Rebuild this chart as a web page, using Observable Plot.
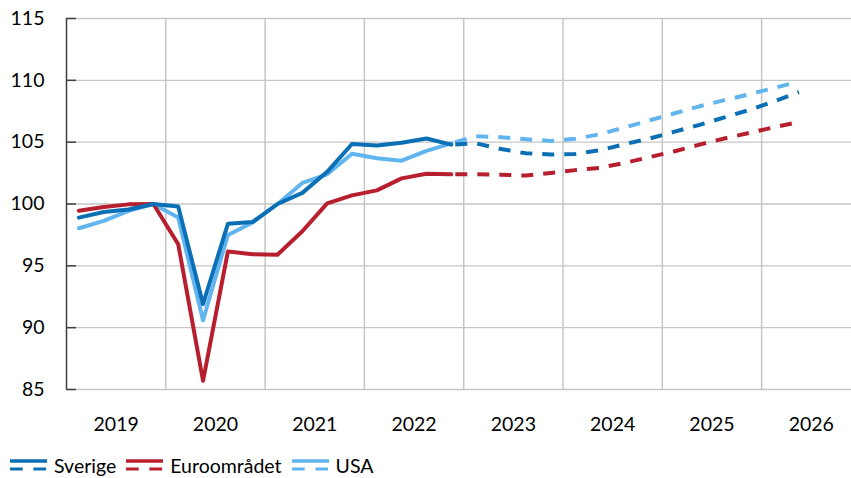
<!DOCTYPE html>
<html><head><meta charset="utf-8">
<script src="https://cdn.jsdelivr.net/npm/d3@7"></script>
<script src="https://cdn.jsdelivr.net/npm/@observablehq/plot@0.6"></script>
<style>
body{margin:0;background:#fff;overflow:hidden;font-family:Lato,sans-serif;}
#legend{display:flex;align-items:center;height:33px;padding-left:10px;padding-top:4px;font-size:19.5px;color:#000;}
.item{display:flex;align-items:center;margin-right:10px;}
.item svg{margin-right:7px;display:block;}
</style></head><body><div id="chart"></div><div id="legend"></div>
<script>
const periods = [
  "2019Q1","2019Q2","2019Q3","2019Q4","2020Q1","2020Q2","2020Q3","2020Q4",
  "2021Q1","2021Q2","2021Q3","2021Q4","2022Q1","2022Q2","2022Q3","2022Q4",
  "2023Q1","2023Q2","2023Q3","2023Q4","2024Q1","2024Q2","2024Q3","2024Q4",
  "2025Q1","2025Q2","2025Q3","2025Q4","2026Q1","2026Q2"
];
const forecastStart = "2022Q4";
const seriesNames = ["Sverige", "Euroområdet", "USA"];
const seriesColors = ["#0a6fb5", "#b81f2e", "#61b5ef"];

// Outcome 2019Q1–2022Q4
const sverigeOutcome = [98.9, 99.35, 99.55, 100.0, 99.8, 91.9, 98.4, 98.55, 100.0, 100.9, 102.6, 104.85, 104.73, 104.95, 105.3, 104.8];
const euroOutcome    = [99.46, 99.76, 99.97, 100.0, 96.75, 85.7, 96.15, 95.94, 95.9, 97.8, 100.05, 100.7, 101.1, 102.07, 102.44, 102.4];
const usaOutcome     = [98.04, 98.63, 99.44, 100.0, 98.9, 90.6, 97.5, 98.5, 100.0, 101.7, 102.4, 104.06, 103.7, 103.5, 104.3, 104.9];
// Forecast 2022Q4–2026Q2
const sverigeForecast = [104.8, 104.9, 104.45, 104.1, 104.0, 104.05, 104.35, 104.85, 105.3, 105.85, 106.4, 107.0, 107.6, 108.3, 109.05];
const euroForecast    = [102.4, 102.4, 102.36, 102.3, 102.5, 102.74, 102.93, 103.33, 103.8, 104.27, 104.8, 105.3, 105.75, 106.2, 106.64];
const usaForecast     = [104.9, 105.48, 105.4, 105.24, 105.1, 105.27, 105.65, 106.2, 106.77, 107.34, 107.9, 108.4, 108.87, 109.38, 109.9];

const yearLabels = ["2019","2020","2021","2022","2023","2024","2025","2026"];
const yTicks = [85, 90, 95, 100, 105, 110, 115];
const xDomain = [2019, 2026.905];

const t = p => +p.slice(0,4) + (+p.slice(5) - 0.5) / 4;
const fStart = periods.indexOf(forecastStart);

function rows(name, outcome, forecast) {
  return {
    outcome: outcome.map((v, i) => ({series: name, t: t(periods[i]), v})),
    forecast: forecast.map((v, i) => ({series: name, t: t(periods[fStart + i]), v}))
  };
}
const S = rows("Sverige", sverigeOutcome, sverigeForecast);
const E = rows("Euroområdet", euroOutcome, euroForecast);
const U = rows("USA", usaOutcome, usaForecast);
const outcomeData = [...U.outcome, ...E.outcome, ...S.outcome];
const forecastData = [...U.forecast, ...E.forecast, ...S.forecast];

const grid = "#c6c6c6";
const chart = Plot.plot({
  width: 851, height: 445,
  marginLeft: 66, marginRight: 0, marginTop: 18, marginBottom: 56,
  style: {fontFamily: "Lato, sans-serif", fontSize: "19.5px", color: "#000", background: "#fff"},
  x: {domain: xDomain, axis: null, label: null},
  y: {domain: [85, 115], axis: null, label: null},
  color: {domain: seriesNames, range: seriesColors},
  marks: [
    Plot.gridY(yTicks, {stroke: grid, strokeOpacity: 1, strokeWidth: 1.4}),
    Plot.gridX(yearLabels.slice(1).map(Number), {stroke: grid, strokeOpacity: 1, strokeWidth: 1.5}),
    Plot.ruleX([xDomain[0]], {stroke: "#404040", strokeWidth: 1.5}),
    Plot.axisY(yTicks, {tickSize: 10, dx: 10, tickFormat: () => "", label: null, stroke: "#404040", strokeWidth: 1.5}),
    Plot.axisY(yTicks, {tickSize: 0, tickPadding: 22, label: null, fill: "#000", fontSize: 19.5}),
    Plot.axisX(yearLabels.map(y => +y + 0.5), {tickSize: 0, tickPadding: 28, label: null, tickFormat: d => String(Math.floor(d)), fill: "#000", fontSize: 19.5}),
    Plot.line(forecastData, {x: "t", y: "v", z: "series", stroke: "series", strokeWidth: 4, strokeDasharray: "12,10", strokeDashoffset: -4, strokeLinecap: "butt"}),
    Plot.line(outcomeData, {x: "t", y: "v", z: "series", stroke: "series", strokeWidth: 4, strokeLinejoin: "round"})
  ]
});
document.getElementById("chart").appendChild(chart);

const legend = document.getElementById("legend");
seriesNames.forEach((name, i) => {
  const c = seriesColors[i];
  const item = document.createElement("div");
  item.className = "item";
  item.innerHTML = `<svg width="37" height="13"><line x1="0" x2="37" y1="2" y2="2" stroke="${c}" stroke-width="3.4"/><line x1="0" x2="37" y1="10" y2="10" stroke="${c}" stroke-width="3" stroke-dasharray="12.7,10.7"/></svg><span>${name}</span>`;
  legend.appendChild(item);
});
</script></body></html>
